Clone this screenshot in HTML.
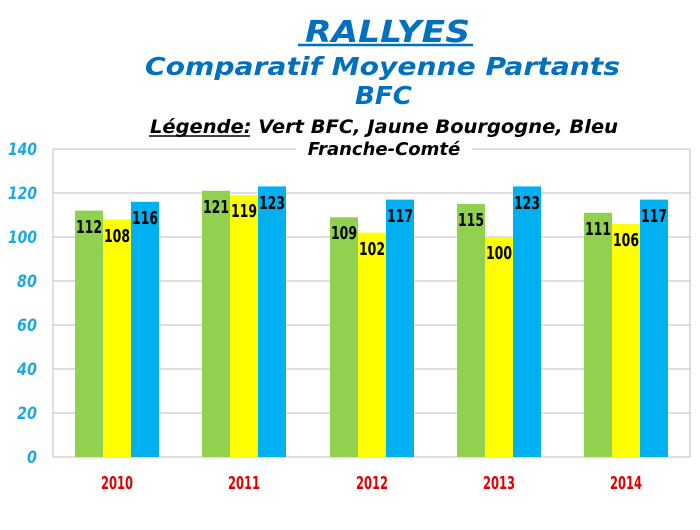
<!DOCTYPE html>
<html><head><meta charset="utf-8"><style>
html,body{margin:0;padding:0;background:#fff;}
</style></head><body>
<svg width="700" height="525" xmlns="http://www.w3.org/2000/svg" font-family="'DejaVu Sans','Liberation Sans',sans-serif">
<rect width="700" height="525" fill="#fff"/>
<g stroke="#bfbfbf" stroke-width="1">
<line x1="53" y1="149" x2="690" y2="149"/>
<line x1="53" y1="193" x2="690" y2="193"/>
<line x1="53" y1="237" x2="690" y2="237"/>
<line x1="53" y1="281" x2="690" y2="281"/>
<line x1="53" y1="325" x2="690" y2="325"/>
<line x1="53" y1="369" x2="690" y2="369"/>
<line x1="53" y1="413" x2="690" y2="413"/>
<line x1="53" y1="457" x2="690" y2="457"/>
<line x1="53" y1="149" x2="53" y2="457"/>
<line x1="690" y1="149" x2="690" y2="457"/>
</g>
<rect x="296" y="140" width="176" height="19" fill="#fff"/>
<text x="305" y="42" textLength="165" lengthAdjust="spacingAndGlyphs" font-size="30" font-weight="bold" font-style="italic" fill="#0070c0">RALLYES</text>
<line x1="298" y1="45" x2="473" y2="45" stroke="#0070c0" stroke-width="2.5"/>
<text x="145" y="75" textLength="475" lengthAdjust="spacingAndGlyphs" font-size="25" font-weight="bold" font-style="italic" fill="#0070c0">Comparatif  Moyenne  Partants</text>
<text x="355" y="104" textLength="57" lengthAdjust="spacingAndGlyphs" font-size="25" font-weight="bold" font-style="italic" fill="#0070c0">BFC</text>
<text x="150" y="133" textLength="468" lengthAdjust="spacingAndGlyphs" font-size="19" font-weight="bold" font-style="italic" fill="#000">Légende: Vert BFC, Jaune Bourgogne, Bleu</text>
<line x1="149" y1="136" x2="250" y2="136" stroke="#000" stroke-width="1.5"/>
<text x="384" y="155" text-anchor="middle" font-size="18" font-weight="bold" font-style="italic" fill="#000">Franche-Comté</text>
<g font-size="17" font-weight="bold" font-style="italic" fill="#1fa8e0" text-anchor="end">
<text x="37" y="155" textLength="29" lengthAdjust="spacingAndGlyphs">140</text><text x="37" y="199" textLength="29" lengthAdjust="spacingAndGlyphs">120</text><text x="37" y="243" textLength="29" lengthAdjust="spacingAndGlyphs">100</text>
<text x="37" y="287" textLength="20" lengthAdjust="spacingAndGlyphs">80</text><text x="37" y="331" textLength="20" lengthAdjust="spacingAndGlyphs">60</text><text x="37" y="375" textLength="20" lengthAdjust="spacingAndGlyphs">40</text>
<text x="37" y="419" textLength="20" lengthAdjust="spacingAndGlyphs">20</text><text x="37" y="463" textLength="10" lengthAdjust="spacingAndGlyphs">0</text>
</g>
<g font-size="18" font-weight="bold" fill="#e00000">
<text x="101" y="489" textLength="32" lengthAdjust="spacingAndGlyphs">2010</text><text x="228" y="489" textLength="32" lengthAdjust="spacingAndGlyphs">2011</text><text x="356" y="489" textLength="32" lengthAdjust="spacingAndGlyphs">2012</text><text x="483" y="489" textLength="32" lengthAdjust="spacingAndGlyphs">2013</text><text x="610" y="489" textLength="32" lengthAdjust="spacingAndGlyphs">2014</text>
</g>
<g font-size="18" font-weight="bold" fill="#000">
<rect x="75" y="210.6" width="28" height="246.4" fill="#92d050"/><text x="76" y="233" textLength="26" lengthAdjust="spacingAndGlyphs">112</text>
<rect x="103" y="219.4" width="28" height="237.6" fill="#ffff00"/><text x="104" y="242" textLength="26" lengthAdjust="spacingAndGlyphs">108</text>
<rect x="131" y="201.8" width="28" height="255.2" fill="#00b0f0"/><text x="132" y="224" textLength="26" lengthAdjust="spacingAndGlyphs">116</text>

<rect x="202" y="190.8" width="28" height="266.2" fill="#92d050"/><text x="203" y="213" textLength="26" lengthAdjust="spacingAndGlyphs">121</text>
<rect x="230" y="195.2" width="28" height="261.8" fill="#ffff00"/><text x="231" y="217" textLength="26" lengthAdjust="spacingAndGlyphs">119</text>
<rect x="258" y="186.4" width="28" height="270.6" fill="#00b0f0"/><text x="259" y="209" textLength="26" lengthAdjust="spacingAndGlyphs">123</text>

<rect x="330" y="217.2" width="28" height="239.8" fill="#92d050"/><text x="331" y="239" textLength="26" lengthAdjust="spacingAndGlyphs">109</text>
<rect x="358" y="232.6" width="28" height="224.4" fill="#ffff00"/><text x="359" y="255" textLength="26" lengthAdjust="spacingAndGlyphs">102</text>
<rect x="386" y="199.6" width="28" height="257.4" fill="#00b0f0"/><text x="387" y="222" textLength="26" lengthAdjust="spacingAndGlyphs">117</text>

<rect x="457" y="204" width="28" height="253" fill="#92d050"/><text x="458" y="226" textLength="26" lengthAdjust="spacingAndGlyphs">115</text>
<rect x="485" y="237" width="28" height="220" fill="#ffff00"/><text x="486" y="259" textLength="26" lengthAdjust="spacingAndGlyphs">100</text>
<rect x="513" y="186.4" width="28" height="270.6" fill="#00b0f0"/><text x="514" y="209" textLength="26" lengthAdjust="spacingAndGlyphs">123</text>

<rect x="584" y="212.8" width="28" height="244.2" fill="#92d050"/><text x="585" y="235" textLength="26" lengthAdjust="spacingAndGlyphs">111</text>
<rect x="612" y="223.8" width="28" height="233.2" fill="#ffff00"/><text x="613" y="246" textLength="26" lengthAdjust="spacingAndGlyphs">106</text>
<rect x="640" y="199.6" width="28" height="257.4" fill="#00b0f0"/><text x="641" y="222" textLength="26" lengthAdjust="spacingAndGlyphs">117</text>
</g>
</svg>
</body></html>
